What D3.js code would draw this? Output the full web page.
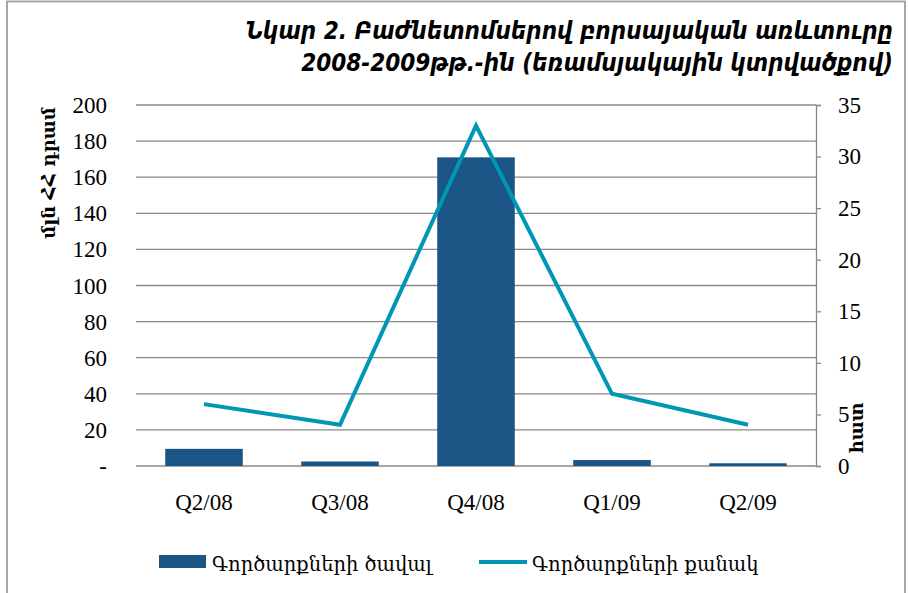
<!DOCTYPE html>
<html>
<head>
<meta charset="utf-8">
<script src="https://cdn.jsdelivr.net/npm/d3@7"></script>
<style>
  body { margin: 0; background: #fff; }
  svg { display: block; }
</style>
</head>
<body>
<div id="chart"></div>
<script>
// quarters on the x axis
var quarters = ["Q2/08", "Q3/08", "Q4/08", "Q1/09", "Q2/09"];
// deal volume, mln AMD (bars, left axis)
var dealVolume = [9.5, 2.5, 171, 3.3, 1.5];
// number of deals (line, right axis)
var dealCount = [6, 4, 33, 7, 4];
var leftTicks = [0, 20, 40, 60, 80, 100, 120, 140, 160, 180, 200];
var rightTicks = [0, 5, 10, 15, 20, 25, 30, 35];

var titleLines = ["Նկար 2. Բաժնետոմսերով բորսայական առևտուրը", "2008-2009թթ.-ին (եռամսյակային կտրվածքով)"];
var leftTitle = "մլն ՀՀ դրամ";
var rightTitle = "հատ";
var seriesNames = ["Գործարքների ծավալ", "Գործարքների քանակ"];

var W = 909, H = 593;
var margin = {top: 105, right: 93, bottom: 127, left: 136};
var width = W - margin.left - margin.right,
    height = H - margin.top - margin.bottom;

var barColor = "#1a5586", lineColor = "#0097b5", gridColor = "#888888";
var serif = "'Liberation Serif', 'Times New Roman', serif";
var armFont = "'DejaVu Serif', serif";

var svg = d3.select("#chart").append("svg")
    .attr("width", W)
    .attr("height", H);

// outer frame
svg.append("rect")
    .attr("x", 7).attr("y", 1.5)
    .attr("width", 898).attr("height", 600)
    .attr("fill", "none")
    .attr("stroke", "#a6a6a6")
    .attr("stroke-width", 2);

// title
svg.append("g").selectAll("text").data(titleLines).enter().append("text")
    .attr("x", 893)
    .attr("y", (d, i) => 39 + i * 32)
    .attr("text-anchor", "end")
    .style("font-family", "'DejaVu Sans Condensed', 'DejaVu Sans', sans-serif")
    .style("font-style", "italic")
    .style("font-weight", "bold")
    .style("font-size", "24px")
    .text(d => d);

var g = svg.append("g")
    .attr("transform", "translate(" + margin.left + "," + margin.top + ")");

var x = d3.scaleBand().domain(quarters).range([0, width]).paddingInner(0.43).paddingOuter(0.215);
var yLeft = d3.scaleLinear().domain([0, 200]).range([height, 0]);
var yRight = d3.scaleLinear().domain([0, 35]).range([height, 0]);

// gridlines from the left axis
g.append("g").selectAll("line").data(leftTicks).enter().append("line")
    .attr("x1", 0).attr("x2", width)
    .attr("y1", d => yLeft(d)).attr("y2", d => yLeft(d))
    .attr("stroke", gridColor)
    .attr("stroke-width", 1.3);

// left tick labels
g.append("g").selectAll("text").data(leftTicks).enter().append("text")
    .attr("x", -29)
    .attr("y", d => yLeft(d))
    .attr("dy", "0.35em")
    .attr("text-anchor", "end")
    .style("font-family", serif)
    .style("font-size", "23px")
    .text(d => d === 0 ? "-" : d);

// right axis
var rightAxis = d3.axisRight(yRight).tickValues(rightTicks).tickSize(5).tickPadding(17);
var ra = g.append("g")
    .attr("transform", "translate(" + width + ",0)")
    .call(rightAxis);
ra.select(".domain").attr("stroke", gridColor).attr("stroke-width", 1.3);
ra.selectAll(".tick line").attr("stroke", gridColor).attr("stroke-width", 1.3);
ra.selectAll(".tick text")
    .attr("fill", "#000")
    .style("font-family", serif)
    .style("font-size", "23px");

// bars
g.append("g").selectAll("rect").data(quarters).enter().append("rect")
    .attr("x", d => x(d))
    .attr("width", x.bandwidth())
    .attr("y", (d, i) => yLeft(dealVolume[i]))
    .attr("height", (d, i) => height - yLeft(dealVolume[i]))
    .attr("fill", barColor);

// line
var line = d3.line()
    .x((d, i) => x(quarters[i]) + x.bandwidth() / 2)
    .y(d => yRight(d));
g.append("path")
    .datum(dealCount)
    .attr("d", line)
    .attr("fill", "none")
    .attr("stroke", lineColor)
    .attr("stroke-width", 4);

// x labels
g.append("g").selectAll("text").data(quarters).enter().append("text")
    .attr("x", d => x(d) + x.bandwidth() / 2)
    .attr("y", height + 44)
    .attr("text-anchor", "middle")
    .style("font-family", serif)
    .style("font-size", "23px")
    .text(d => d);

// axis titles
svg.append("text")
    .attr("transform", "translate(55,173) rotate(-90)")
    .attr("text-anchor", "middle")
    .style("font-family", armFont)
    .style("font-weight", "bold")
    .style("font-size", "18px")
    .text(leftTitle);

svg.append("text")
    .attr("transform", "translate(863,428) rotate(-90)")
    .attr("text-anchor", "middle")
    .style("font-family", armFont)
    .style("font-weight", "bold")
    .style("font-size", "18px")
    .text(rightTitle);

// legend
var legend = svg.append("g");
legend.append("rect")
    .attr("x", 159).attr("y", 555)
    .attr("width", 47).attr("height", 13)
    .attr("fill", barColor);
legend.append("text")
    .attr("x", 212).attr("y", 571)
    .style("font-family", armFont)
    .style("font-size", "19.5px")
    .text(seriesNames[0]);
legend.append("line")
    .attr("x1", 479).attr("x2", 527)
    .attr("y1", 562).attr("y2", 562)
    .attr("stroke", lineColor)
    .attr("stroke-width", 4);
legend.append("text")
    .attr("x", 532).attr("y", 571)
    .style("font-family", armFont)
    .style("font-size", "19.5px")
    .text(seriesNames[1]);
</script>
</body>
</html>
